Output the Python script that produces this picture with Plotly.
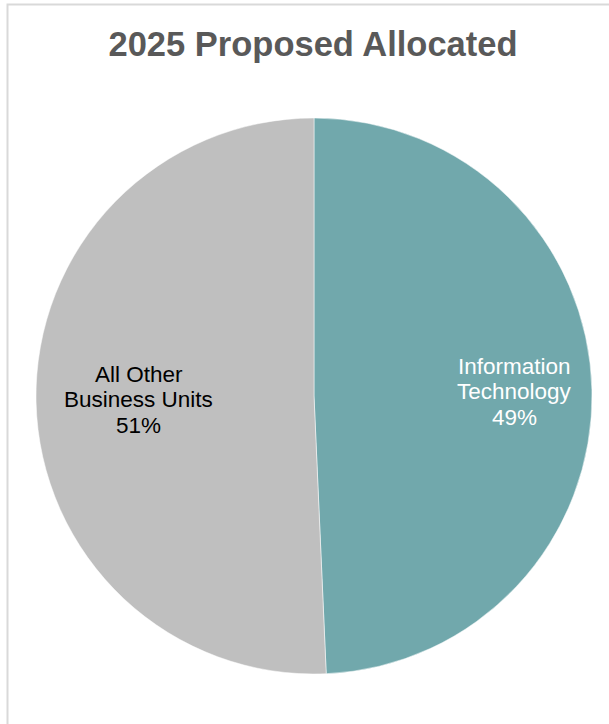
import math
import plotly.graph_objects as go

title_text = "2025 Proposed Allocated"
labels = ["Information<br>Technology", "All Other<br>Business Units"]
values = [49.3, 50.7]
colors = ["#71A8AC", "#BFBFBF"]
text_colors = ["#FFFFFF", "#000000"]
label_radius = [0.72, 0.63]  # label distance from centre, fraction of radius

W, H = 609, 724
FONT = "Liberation Sans, Arial, sans-serif"

# pie geometry in pixels
cx_px, cy_px, r_px = 314, 396, 278
dom_x = [(cx_px - r_px) / W, (cx_px + r_px) / W]
dom_y = [1 - (cy_px + r_px) / H, 1 - (cy_px - r_px) / H]

fig = go.Figure(go.Pie(
    labels=labels,
    values=values,
    sort=False,
    direction="clockwise",
    rotation=0,
    marker=dict(colors=colors, line=dict(color="#FFFFFF", width=0.5)),
    textinfo="none",
    hoverinfo="label+percent",
    showlegend=False,
    domain=dict(x=dom_x, y=dom_y),
))

# labels placed at the middle angle of each slice
total = sum(values)
annotations = []
cum = 0.0
line_gap = 25.5
for lab, val, col, rf in zip(labels, values, text_colors, label_radius):
    mid = (cum + val / 2) / total * 2 * math.pi
    cum += val
    x = (cx_px + rf * r_px * math.sin(mid)) / W
    y = 1 - (cy_px - rf * r_px * math.cos(mid)) / H
    lines = lab.split("<br>") + [f"{round(val / total * 100):.0f}%"]
    n = len(lines)
    for i, ln in enumerate(lines):
        annotations.append(dict(
            x=x, y=y, xref="paper", yref="paper",
            text=ln, showarrow=False,
            xanchor="center", yanchor="middle",
            yshift=((n - 1) / 2 - i) * line_gap,
            font=dict(family=FONT, size=22.5, color=col),
        ))

fig.update_layout(
    width=W, height=H,
    margin=dict(l=0, r=0, t=0, b=0),
    paper_bgcolor="#FFFFFF",
    plot_bgcolor="#FFFFFF",
    title=dict(
        text=f"<b>{title_text}</b>",
        x=313 / W, xanchor="center",
        y=1 - 44 / H, yanchor="middle",
        font=dict(family=FONT, size=34.5, color="#595959"),
    ),
    annotations=annotations,
    shapes=[dict(
        type="rect", xref="paper", yref="paper",
        x0=7.5 / W, x1=1.05, y0=-0.05, y1=1 - 4.5 / H,
        line=dict(color="#D9D9D9", width=2),
        fillcolor="rgba(0,0,0,0)",
        layer="below",
    )],
)

fig.write_html("out.html", config={"displayModeBar": False},
               post_script="document.body.style.margin='0px';")
